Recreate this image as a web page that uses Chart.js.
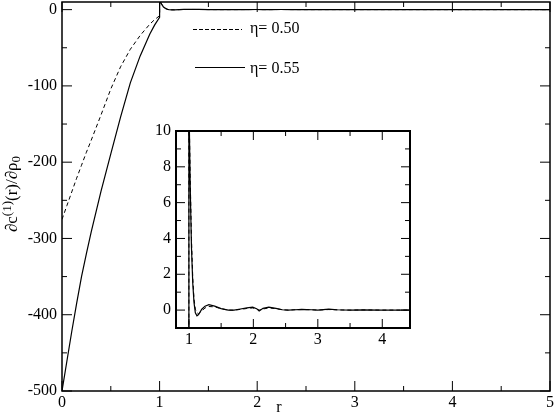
<!DOCTYPE html>
<html>
<head>
<meta charset="utf-8">
<script src="https://cdn.jsdelivr.net/npm/chart.js@4/dist/chart.umd.min.js"></script>
<style>
  body { margin: 0; background: #fff; }
  #wrap { position: relative; width: 554px; height: 415px; }
  #mainChart { position: absolute; left: 0; top: 0; }
  #insetChart { position: absolute; left: 120px; top: 110px; }
</style>
</head>
<body>
<div id="wrap">
  <canvas id="mainChart" width="554" height="415"></canvas>
  <canvas id="insetChart" width="300" height="240"></canvas>
</div>
<script>
// r grid (the jump at r = 1 is given twice)
const rValues = [0, 0.05, 0.1, 0.15, 0.2, 0.25, 0.3, 0.4, 0.5, 0.6, 0.7, 0.8, 0.9, 0.95, 1.0,
  1.0, 1.02, 1.04, 1.06, 1.08, 1.1, 1.125, 1.15, 1.2, 1.25, 1.31, 1.4, 1.5, 1.61, 1.7, 1.8, 1.9,
  1.99, 2.05, 2.09, 2.15, 2.24, 2.35, 2.45, 2.54, 2.65, 2.75, 2.9, 3.0, 3.17, 3.3, 3.5, 3.7, 4.0, 4.5, 5.0];

// eta = 0.50 (dashed)
const eta050 = [-275, -257, -239, -221, -204, -187, -171, -138, -104, -75, -52, -34, -19, -13, -8,
  12, 7.5, 4, 1.8, 0.6, 0.05, -0.15, -0.2, -0.05, 0.12, 0.2, 0.18, 0.08, 0.0, -0.01, 0.04, 0.09,
  0.12, 0.06, 0.0, 0.06, 0.12, 0.08, 0.02, 0.0, 0.02, 0.03, 0.02, 0.0, 0.03, 0.01, 0.0, 0.01, 0.0, 0.0, 0.0];

// eta = 0.55 (solid)
const eta055 = [-500, -461, -422, -385, -350, -320, -291, -238, -189, -141, -96, -61, -32, -20, -10,
  12, 7, 3.5, 1.5, 0.4, -0.15, -0.32, -0.25, 0.05, 0.22, 0.3, 0.22, 0.08, 0.0, 0.0, 0.06, 0.12,
  0.16, 0.08, -0.05, 0.1, 0.16, 0.1, 0.02, 0.0, 0.02, 0.04, 0.02, 0.0, 0.05, 0.02, 0.0, 0.01, 0.0, 0.0, 0.0];

// tick labels
const mainXTicks = [0, 1, 2, 3, 4, 5];
const mainXMinor = [0.5, 1.5, 2.5, 3.5, 4.5];
const mainYTicks = [-500, -400, -300, -200, -100, 0];
const mainYMinor = [-450, -350, -250, -150, -50];
const insetXTicks = [1, 2, 3, 4];
const insetXMinor = [1.5, 2.5, 3.5];
const insetYTicks = [0, 2, 4, 6, 8, 10];
const insetYMinor = [-1, 1, 3, 5, 7, 9];

const FONT = '"Liberation Serif", "Times New Roman", serif';

function toPoints(vals) {
    return rValues.map((r, i) => ({ x: r, y: vals[i] }));
}

function makeDatasets() {
    return [
        { label: 'η= 0.50', data: toPoints(eta050), borderColor: '#000', borderWidth: 1,
          borderDash: [4, 3], pointRadius: 0, tension: 0 },
        { label: 'η= 0.55', data: toPoints(eta055), borderColor: '#000', borderWidth: 1.2,
          pointRadius: 0, tension: 0 }
    ];
}

// box around the plot with inward ticks on all four sides
const framePlugin = {
    id: 'frame',
    afterDatasetsDraw(chart, args, opts) {
        const { ctx, chartArea: a } = chart;
        const x = chart.scales.x, y = chart.scales.y;
        ctx.save();
        ctx.strokeStyle = '#000';
        ctx.lineWidth = 1;
        ctx.beginPath();
        const tickX = (v, len) => {
            const p = x.getPixelForValue(v);
            ctx.moveTo(p, a.bottom); ctx.lineTo(p, a.bottom - len);
            ctx.moveTo(p, a.top); ctx.lineTo(p, a.top + len);
        };
        const tickY = (v, len) => {
            const p = y.getPixelForValue(v);
            ctx.moveTo(a.left, p); ctx.lineTo(a.left + len, p);
            ctx.moveTo(a.right, p); ctx.lineTo(a.right - len, p);
        };
        opts.xMajor.forEach(v => tickX(v, opts.major));
        opts.xMinor.forEach(v => tickX(v, opts.minor));
        opts.yMajor.forEach(v => tickY(v, opts.major));
        opts.yMinor.forEach(v => tickY(v, opts.minor));
        ctx.stroke();
        ctx.lineWidth = opts.lineWidth;
        ctx.strokeRect(a.left, a.top, a.right - a.left, a.bottom - a.top);
        ctx.restore();
    }
};

// legend, axis titles
const notesPlugin = {
    id: 'notes',
    afterDraw(chart) {
        const ctx = chart.ctx;
        ctx.save();
        ctx.fillStyle = '#000';
        ctx.strokeStyle = '#000';

        // legend
        ctx.lineWidth = 1;
        ctx.setLineDash([4, 2]);
        ctx.beginPath(); ctx.moveTo(193, 29.5); ctx.lineTo(242, 29.5); ctx.stroke();
        ctx.setLineDash([]);
        ctx.beginPath(); ctx.moveTo(195, 67.5); ctx.lineTo(245, 67.5); ctx.stroke();
        ctx.font = '16px ' + FONT;
        ctx.textBaseline = 'middle';
        ctx.fillText('η= 0.50', 250, 29);
        ctx.fillText('η= 0.55', 250, 69);

        // x title
        ctx.textAlign = 'center';
        ctx.fillText('r', 279, 408);

        // y title, rotated, with super/subscripts
        const big = '17px ' + FONT, small = '13px ' + FONT;
        const parts = [['∂c', big, 0], ['(1)', small, -6], ['(r)/∂ρ', big, 0], ['0', small, 3]];
        ctx.translate(12, 194);
        ctx.rotate(-Math.PI / 2);
        ctx.textAlign = 'left';
        ctx.textBaseline = 'alphabetic';
        let w = 0;
        parts.forEach(p => { ctx.font = p[1]; w += ctx.measureText(p[0]).width; });
        let xx = -w / 2;
        parts.forEach(p => {
            ctx.font = p[1];
            ctx.fillText(p[0], xx, 5 + p[2]);
            xx += ctx.measureText(p[0]).width;
        });
        ctx.restore();
    }
};

function axis(min, max, ticks, size, padding, fitFn) {
    return {
        type: 'linear', min: min, max: max,
        grid: { display: false, drawTicks: false },
        border: { display: false },
        afterBuildTicks: s => { s.ticks = ticks.map(v => ({ value: v })); },
        afterFit: s => {
            fitFn(s);
            s.paddingTop = 0; s.paddingBottom = 0;
            s.paddingLeft = 0; s.paddingRight = 0;
        },
        ticks: { color: '#000', font: { family: FONT, size: size }, padding: padding,
                 autoSkip: false, maxRotation: 0, callback: v => String(v) }
    };
}

// main plot
new Chart(document.getElementById('mainChart'), {
    type: 'line',
    data: { datasets: makeDatasets() },
    options: {
        responsive: false,
        animation: false,
        devicePixelRatio: 1,
        layout: { padding: { top: 2, right: 4, left: 0, bottom: 0 } },
        plugins: {
            legend: { display: false },
            tooltip: { enabled: false },
            frame: { xMajor: mainXTicks, xMinor: mainXMinor, yMajor: mainYTicks, yMinor: mainYMinor,
                     major: 10, minor: 5, lineWidth: 1.5 }
        },
        scales: {
            x: axis(0, 5, mainXTicks, 16, 2, s => { s.height = 24; }),
            y: axis(-500, 10, mainYTicks, 16, 5, s => { s.width = 62; })
        }
    },
    plugins: [framePlugin, notesPlugin]
});

// inset
new Chart(document.getElementById('insetChart'), {
    type: 'line',
    data: { datasets: makeDatasets() },
    options: {
        responsive: false,
        animation: false,
        devicePixelRatio: 1,
        layout: { padding: { top: 21, right: 10, left: 0, bottom: 0 } },
        plugins: {
            legend: { display: false },
            tooltip: { enabled: false },
            frame: { xMajor: insetXTicks, xMinor: insetXMinor, yMajor: insetYTicks, yMinor: insetYMinor,
                     major: 9, minor: 5, lineWidth: 2 }
        },
        scales: {
            x: axis(0.8, 4.43, insetXTicks, 16, 2, s => { s.height = 22; }),
            y: axis(-1, 10, insetYTicks, 16, 5, s => { s.width = 56; })
        }
    },
    plugins: [framePlugin]
});
</script>
</body>
</html>
